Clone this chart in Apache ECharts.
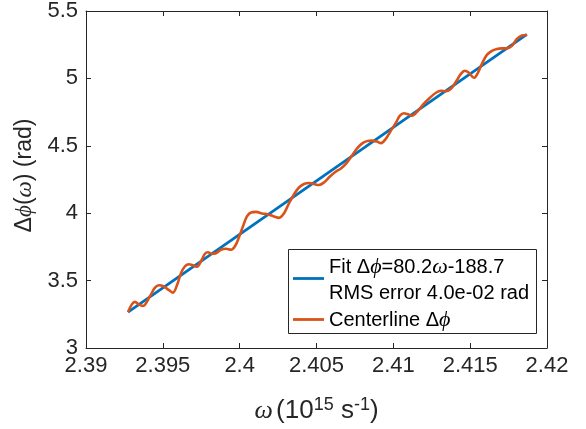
<!DOCTYPE html>
<html>
<head>
<meta charset="utf-8">
<script src="https://cdn.jsdelivr.net/npm/echarts@6/dist/echarts.min.js"></script>
<style>
html,body{margin:0;padding:0;background:#fff;}
#chart{width:586px;height:429px;}
</style>
</head>
<body>
<div id="chart"></div>
<script>
// ω (10^15 s^-1) values of the centerline samples
const omega = [
  2.392733, 2.392993, 2.393188, 2.393448, 2.393708, 2.394164, 2.394489, 2.394749,
  2.395075, 2.395400, 2.395660, 2.395920, 2.396181, 2.396441, 2.396701, 2.396961,
  2.397222, 2.397482, 2.397742, 2.397937, 2.398197, 2.398457, 2.398783, 2.399108,
  2.399434, 2.399693, 2.399954, 2.400214, 2.400474, 2.400735, 2.401060, 2.401451,
  2.401841, 2.402231, 2.402557, 2.402882, 2.403207, 2.403532, 2.403858, 2.404183,
  2.404508, 2.404834, 2.405159, 2.405484, 2.405875, 2.406265, 2.406590, 2.406981,
  2.407306, 2.407631, 2.407957, 2.408282, 2.408607, 2.408932, 2.409193, 2.409518,
  2.409843, 2.410169, 2.410429, 2.410689, 2.410950, 2.411210, 2.411600, 2.411990,
  2.412381, 2.412771, 2.413096, 2.413422, 2.413747, 2.414072, 2.414398, 2.414658,
  2.414918, 2.415243, 2.415503, 2.415764, 2.416089, 2.416414, 2.416739, 2.417065,
  2.417390, 2.417715, 2.418041, 2.418366, 2.418691
];
// Centerline Δφ (rad)
const centerline = [
  3.2663, 3.3254, 3.3425, 3.3217, 3.3121, 3.3846, 3.4475, 3.4660,
  3.4564, 3.4290, 3.4105, 3.4660, 3.5547, 3.6065, 3.6213, 3.6139,
  3.6028, 3.6435, 3.6990, 3.7101, 3.6990, 3.7027, 3.7285, 3.7359,
  3.7285, 3.7544, 3.8210, 3.9024, 3.9763, 4.0059, 4.0096, 3.9985,
  3.9911, 3.9763, 3.9652, 3.9985, 4.0725, 4.1390, 4.1908, 4.2167,
  4.2241, 4.2167, 4.2093, 4.2278, 4.2722, 4.3092, 4.3314, 4.3757,
  4.4275, 4.4793, 4.5163, 4.5347, 4.5385, 4.5311, 4.5200, 4.5532,
  4.6124, 4.6716, 4.7234, 4.7418, 4.7345, 4.7234, 4.7603, 4.8121,
  4.8565, 4.8935, 4.9083, 4.9046, 4.9231, 4.9748, 5.0340, 5.0562,
  5.0414, 5.0044, 5.0414, 5.1080, 5.1745, 5.2041, 5.2189, 5.2227,
  5.2227, 5.2411, 5.2929, 5.3188, 5.3225
];
// Linear fit, endpoints
const fitOmega = [2.392733, 2.418691];
const fitPhi = [3.2663, 5.3262];

const xTicks = {min: 2.39, max: 2.42, interval: 0.005};
const yTicks = {min: 3, max: 5.5, interval: 0.5};

// Legend texts
const legendLines = [
  '{t|Fit Δ}{i|ϕ}{t|=80.2}{i|ω}{t|-188.7}',
  '{t|RMS error 4.0e-02 rad}',
  '{t|Centerline Δ}{i|ϕ}'
];

const BLUE = '#0072BD';
const ORANGE = '#D95319';
const AX = '#262626';
const FONT = 'Liberation Sans, Arial, Helvetica, sans-serif';
const MATH = 'Liberation Serif, DejaVu Serif, serif';

const chart = echarts.init(document.getElementById('chart'), null, {renderer: 'canvas'});

function pairs(xs, ys) { return xs.map((x, i) => [x, ys[i]]); }
function fmt(d) { return v => String(parseFloat(v.toFixed(d))); }

const tickStyle = {show: true, inside: true, length: 5, lineStyle: {color: AX, width: 1}};
const lineStyle = {show: true, lineStyle: {color: AX, width: 1}};

const legendRich = {
  t: {fontFamily: FONT, fontSize: 20, fill: '#000'},
  i: {fontFamily: MATH, fontStyle: 'italic', fontSize: 22, fill: '#000'}
};

function legendText(txt, y) {
  return {type: 'text', z: 100, style: {text: txt, x: 329, y: y, align: 'left', verticalAlign: 'middle', rich: legendRich, fill: '#000'}};
}

const option = {
  animation: false,
  backgroundColor: '#fff',
  grid: {left: 86, right: 39, top: 10, bottom: 81, containLabel: false},
  legend: {show: false},
  xAxis: [
    {
      type: 'value', position: 'bottom', ...xTicks,
      axisLine: lineStyle, axisTick: tickStyle, splitLine: {show: false},
      axisLabel: {color: AX, fontFamily: FONT, fontSize: 22, margin: 7, formatter: fmt(3)},
      name: '{m|ω} {t|(10}{s|15}{t| s}{s|-1}{t|)}',
      nameLocation: 'middle', nameGap: 48,
      nameTextStyle: {
        rich: {
          m: {fontFamily: MATH, fontStyle: 'italic', fontSize: 26, color: AX, lineHeight: 30},
          t: {fontFamily: FONT, fontSize: 26, color: AX, lineHeight: 30},
          s: {fontFamily: FONT, fontSize: 18, color: AX, lineHeight: 17, verticalAlign: 'top'}
        }
      }
    },
    {
      type: 'value', position: 'top', ...xTicks,
      axisLine: lineStyle, axisTick: tickStyle, axisLabel: {show: false}, splitLine: {show: false}
    }
  ],
  yAxis: [
    {
      type: 'value', position: 'left', ...yTicks,
      axisLine: lineStyle, axisTick: tickStyle, splitLine: {show: false},
      axisLabel: {color: AX, fontFamily: FONT, fontSize: 22, margin: 8, formatter: fmt(1)},
      name: '{t|Δ}{m|ϕ}{t|(}{m|ω}{t|) (rad)}',
      nameLocation: 'middle', nameGap: 44, nameRotate: 90,
      nameTextStyle: {
        padding: [0, 0, 0, 8],
        rich: {
          m: {fontFamily: MATH, fontStyle: 'italic', fontSize: 23, color: AX},
          t: {fontFamily: FONT, fontSize: 23, color: AX}
        }
      }
    },
    {
      type: 'value', position: 'right', ...yTicks,
      axisLine: lineStyle, axisTick: tickStyle, axisLabel: {show: false}, splitLine: {show: false}
    }
  ],
  graphic: [
    {type: 'rect', z: 99, shape: {x: 288.5, y: 249.5, width: 248, height: 84}, style: {fill: '#fff', stroke: AX, lineWidth: 1}},
    {type: 'line', z: 100, shape: {x1: 293, y1: 278.5, x2: 324, y2: 278.5}, style: {stroke: BLUE, lineWidth: 2.8}},
    {type: 'line', z: 100, shape: {x1: 293, y1: 319.5, x2: 324, y2: 319.5}, style: {stroke: ORANGE, lineWidth: 2.8}},
    legendText(legendLines[0], 267),
    legendText(legendLines[1], 293.5),
    legendText(legendLines[2], 320.5)
  ],
  series: [
    {
      name: 'Fit', type: 'line', xAxisIndex: 0, yAxisIndex: 0,
      data: pairs(fitOmega, fitPhi), showSymbol: false, symbol: 'none',
      lineStyle: {color: BLUE, width: 2.8}, itemStyle: {color: BLUE}, z: 2
    },
    {
      name: 'Centerline', type: 'line', xAxisIndex: 0, yAxisIndex: 0,
      data: pairs(omega, centerline), showSymbol: false, symbol: 'none', smooth: 0.35,
      lineStyle: {color: ORANGE, width: 2.6}, itemStyle: {color: ORANGE}, z: 3
    }
  ]
};
chart.setOption(option);
</script>
</body>
</html>
